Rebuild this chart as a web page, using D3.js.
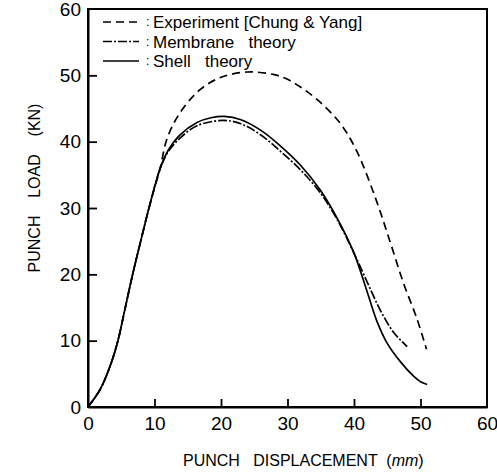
<!DOCTYPE html>
<html>
<head>
<meta charset="utf-8">
<script src="https://cdn.jsdelivr.net/npm/d3@7"></script>
<style>
  body { margin: 0; background: #fff; }
  text { font-family: "Liberation Sans Narrow", "Liberation Sans", sans-serif; fill: #000; }
</style>
</head>
<body>
<svg id="chart"></svg>
<script>
(() => {

  // punch displacement (mm) / punch load (kN)
  const expDisp = [0, 1.8, 3.3, 4.5, 5.5, 6.6, 7.8, 9.3, 10.8, 11.9, 13.8, 16.8, 20, 24, 28, 30, 32, 34.4, 37.9, 40.4, 43.3, 45.4, 47.4, 49.5, 50.9];
  const expLoad = [0, 2.6, 6.1, 10, 14.5, 19.5, 24.5, 30.5, 35.8, 40.5, 44.3, 47.8, 49.7, 50.5, 50.1, 49.4, 48.2, 46.4, 42.8, 38.6, 31.3, 25.0, 18.8, 13.2, 8.7];

  const memDisp = [0, 1.8, 3.3, 4.5, 5.5, 6.6, 7.8, 9.3, 10.8, 12, 13.8, 16.4, 20.3, 23, 26, 29, 32, 35, 37.5, 40, 42, 44, 46, 48];
  const memLoad = [0, 2.6, 6.1, 10, 14.5, 19.5, 24.5, 30.5, 35.8, 38.4, 40.5, 42.4, 43.2, 42.7, 41.0, 38.5, 35.7, 32.2, 28.2, 23.2, 18.8, 14.5, 11.2, 9.1];

  const shellDisp = [0, 1.8, 3.3, 4.5, 5.5, 6.6, 7.8, 9.3, 10.8, 12, 13.8, 16.4, 18.5, 20.5, 23, 26, 29, 32, 35, 37.5, 40, 42, 43.5, 45, 47, 49, 50, 51];
  const shellLoad = [0, 2.6, 6.1, 10, 14.5, 19.5, 24.5, 30.5, 35.8, 38.6, 41.0, 42.9, 43.6, 43.8, 43.3, 41.7, 39.3, 36.4, 32.6, 28.4, 23.2, 17.3, 12.8, 9.6, 6.8, 4.6, 3.8, 3.4];

  const xTicks = [0, 10, 20, 30, 40, 50, 60];
  const yTicks = [0, 10, 20, 30, 40, 50, 60];

  const seriesNames = ['Experiment [Chung & Yang]', 'Membrane   theory', 'Shell   theory'];
  const seriesDash = ['8,5', '9,2,2,2', null];

  const toPoints = (xs, ys) => xs.map((x, i) => ({ x: x, y: ys[i] }));
  const series = [
    toPoints(expDisp, expLoad),
    toPoints(memDisp, memLoad),
    toPoints(shellDisp, shellLoad)
  ];

  const svgWidth = 497;
  const svgHeight = 472;
  const margin = { top: 9, left: 88, right: 10, bottom: 65 };
  const width = svgWidth - (margin.left + margin.right);
  const height = svgHeight - (margin.top + margin.bottom);

  const svg = d3.select('#chart')
    .attr('width', svgWidth)
    .attr('height', svgHeight);

  const g = svg.append('g')
    .attr('transform', `translate(${margin.left}, ${margin.top})`);

  const xScale = d3.scaleLinear().domain([0, 60]).range([0, width]);
  const yScale = d3.scaleLinear().domain([0, 60]).range([height, 0]);

  // frame
  g.append('rect')
    .attr('width', width)
    .attr('height', height)
    .attr('fill', 'none')
    .attr('stroke', '#000')
    .attr('stroke-width', 2);

  const xAxis = g.append('g')
    .attr('transform', `translate(0, ${height})`)
    .call(d3.axisBottom(xScale).tickValues(xTicks).tickSizeInner(-8).tickSizeOuter(0).tickPadding(10));

  const yAxis = g.append('g')
    .call(d3.axisLeft(yScale).tickValues(yTicks).tickSizeInner(-9).tickSizeOuter(0).tickPadding(7));

  [xAxis, yAxis].forEach(ax => {
    ax.select('.domain').attr('stroke-width', 2);
    ax.selectAll('.tick line').attr('stroke-width', 1.8);
    ax.selectAll('.tick text')
      .style('font-family', '"Liberation Sans Narrow", sans-serif')
      .style('font-size', '19px')
      .attr('fill', '#000');
  });
  xAxis.selectAll('.tick line').filter(d => d === 0 || d === 60).remove();
  yAxis.selectAll('.tick line').filter(d => d === 0 || d === 60).remove();

  const line = d3.line()
    .x(d => xScale(d.x))
    .y(d => yScale(d.y))
    .curve(d3.curveCatmullRom.alpha(0.5));

  g.selectAll('.curve')
    .data(series)
    .enter()
    .append('path')
    .attr('class', 'curve')
    .attr('fill', 'none')
    .attr('stroke', '#000')
    .attr('stroke-width', 1.7)
    .attr('stroke-dasharray', (d, i) => seriesDash[i])
    .attr('d', line);

  // legend
  const legend = g.selectAll('.legend')
    .data(seriesNames)
    .enter()
    .append('g')
    .attr('class', 'legend')
    .attr('transform', (d, i) => `translate(15, ${13 + i * 19.5})`);

  legend.append('line')
    .attr('x1', 0)
    .attr('x2', 36)
    .attr('stroke', '#000')
    .attr('stroke-width', 1.7)
    .attr('stroke-dasharray', (d, i) => seriesDash[i]);

  legend.append('text')
    .attr('x', 43)
    .attr('dy', '0.35em')
    .style('font-size', '12px')
    .text(':');

  legend.append('text')
    .attr('x', 50)
    .attr('dy', '0.36em')
    .attr('xml:space', 'preserve')
    .style('font-size', '17px')
    .text(d => d);

  // axis titles
  const xTitle = svg.append('text')
    .attr('x', 183)
    .attr('y', 466)
    .attr('xml:space', 'preserve')
    .style('font-size', '16px');
  xTitle.append('tspan').text('PUNCH   DISPLACEMENT  (');
  xTitle.append('tspan').style('font-style', 'italic').text('mm');
  xTitle.append('tspan').text(')');

  svg.append('text')
    .attr('transform', 'translate(40, 188) rotate(-90)')
    .attr('text-anchor', 'middle')
    .attr('xml:space', 'preserve')
    .style('font-size', '16px')
    .text('PUNCH    LOAD    (KN)');

})();
</script>
</body>
</html>
